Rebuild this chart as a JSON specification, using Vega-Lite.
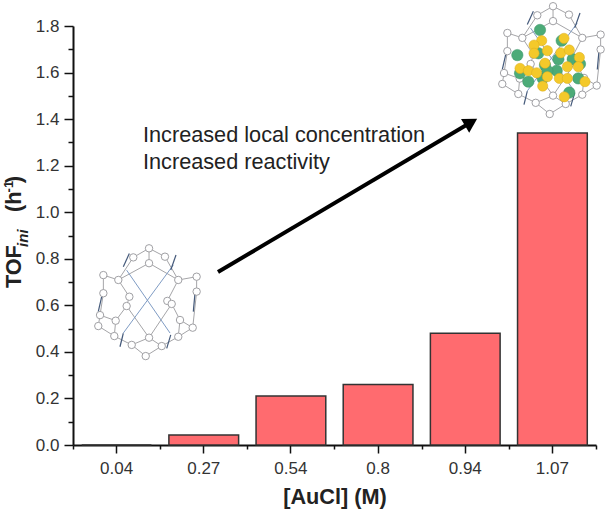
{"$schema":"https://vega.github.io/schema/vega-lite/v6.json","width":523,"height":419,"autosize":{"type":"none"},"padding":{"left":73,"top":26,"right":13,"bottom":67},"background":"white","config":{"view":{"stroke":null},"font":"Liberation Sans"},
"datasets":{
"bars":[{"c":"0.04","tof":0},{"c":"0.27","tof":0.043},{"c":"0.54","tof":0.21},{"c":"0.8","tof":0.26},{"c":"0.94","tof":0.48},{"c":"1.07","tof":1.34}],
"rings":[{"id":"lA","x":0.869,"y":0.845},{"id":"lB","x":1.051,"y":0.809},{"id":"lC","x":0.689,"y":0.806},{"id":"lD","x":0.869,"y":0.781},{"id":"lE","x":0.347,"y":0.73},{"id":"lF","x":1.413,"y":0.723},{"id":"lG","x":0.518,"y":0.709},{"id":"lH","x":1.203,"y":0.709},{"id":"lI","x":0.309,"y":0.558},{"id":"lJ","x":0.289,"y":0.511},{"id":"lK","x":1.368,"y":0.504},{"id":"lL","x":1.413,"y":0.659},{"id":"lM","x":0.472,"y":0.468},{"id":"lN","x":1.203,"y":0.465},{"id":"lO","x":0.869,"y":0.461},{"id":"lP","x":0.671,"y":0.43},{"id":"lQ","x":1.014,"y":0.425},{"id":"lR","x":0.831,"y":0.382},{"id":"lS","x":0.347,"y":0.652},{"id":"lT","x":0.644,"y":0.637},{"id":"lU","x":1.078,"y":0.619},{"id":"lV","x":0.613,"y":0.597},{"id":"lW","x":1.128,"y":0.606},{"id":"lX","x":0.488,"y":0.534},{"id":"lY","x":1.223,"y":0.537},
{"id":"rA","x":5.486,"y":1.885},{"id":"rB","x":5.668,"y":1.849},{"id":"rC","x":5.306,"y":1.846},{"id":"rD","x":5.486,"y":1.821},{"id":"rE","x":4.964,"y":1.77},{"id":"rF","x":6.03,"y":1.763},{"id":"rG","x":5.135,"y":1.749},{"id":"rH","x":5.82,"y":1.749},{"id":"rI","x":4.926,"y":1.598},{"id":"rJ","x":4.906,"y":1.551},{"id":"rK","x":5.985,"y":1.544},{"id":"rL","x":6.03,"y":1.699},{"id":"rM","x":5.089,"y":1.508},{"id":"rN","x":5.82,"y":1.505},{"id":"rO","x":5.486,"y":1.501},{"id":"rP","x":5.288,"y":1.47},{"id":"rQ","x":5.631,"y":1.465},{"id":"rR","x":5.448,"y":1.422},{"id":"rS","x":4.964,"y":1.692},{"id":"rT","x":5.261,"y":1.677},{"id":"rU","x":5.695,"y":1.659},{"id":"rV","x":5.23,"y":1.637},{"id":"rW","x":5.745,"y":1.646},{"id":"rX","x":5.105,"y":1.574},{"id":"rY","x":5.84,"y":1.577}],
"edges":[{"a":"lA","b":"lB"},{"a":"lA","b":"lC"},{"a":"lA","b":"lD"},{"a":"lB","b":"lH"},{"a":"lC","b":"lG"},{"a":"lG","b":"lE"},{"a":"lH","b":"lF"},{"a":"lD","b":"lG"},{"a":"lD","b":"lH"},{"a":"lE","b":"lS"},{"a":"lS","b":"lI"},{"a":"lI","b":"lJ"},{"a":"lJ","b":"lM"},{"a":"lM","b":"lP"},{"a":"lP","b":"lR"},{"a":"lR","b":"lQ"},{"a":"lQ","b":"lN"},{"a":"lN","b":"lK"},{"a":"lK","b":"lY"},{"a":"lF","b":"lL"},{"a":"lL","b":"lK"},{"a":"lO","b":"lP"},{"a":"lO","b":"lQ"},{"a":"lX","b":"lM"},{"a":"lX","b":"lI"},{"a":"lY","b":"lN"},{"a":"lT","b":"lV"},{"a":"lU","b":"lW"},{"a":"lT","b":"lG"},{"a":"lU","b":"lH"},{"a":"lV","b":"lX"},{"a":"lW","b":"lY"},{"a":"lV","b":"lO"},{"a":"lW","b":"lO"},
{"a":"rA","b":"rB"},{"a":"rA","b":"rC"},{"a":"rA","b":"rD"},{"a":"rB","b":"rH"},{"a":"rC","b":"rG"},{"a":"rG","b":"rE"},{"a":"rH","b":"rF"},{"a":"rD","b":"rG"},{"a":"rD","b":"rH"},{"a":"rE","b":"rS"},{"a":"rS","b":"rI"},{"a":"rI","b":"rJ"},{"a":"rJ","b":"rM"},{"a":"rM","b":"rP"},{"a":"rP","b":"rR"},{"a":"rR","b":"rQ"},{"a":"rQ","b":"rN"},{"a":"rN","b":"rK"},{"a":"rK","b":"rY"},{"a":"rF","b":"rL"},{"a":"rL","b":"rK"},{"a":"rO","b":"rP"},{"a":"rO","b":"rQ"},{"a":"rX","b":"rM"},{"a":"rX","b":"rI"},{"a":"rY","b":"rN"},{"a":"rT","b":"rV"},{"a":"rU","b":"rW"},{"a":"rT","b":"rG"},{"a":"rU","b":"rH"},{"a":"rV","b":"rX"},{"a":"rW","b":"rY"},{"a":"rV","b":"rO"},{"a":"rW","b":"rO"}],
"links":[{"x":0.613,"y":0.751,"x2":1.109,"y2":0.481},{"x":1.146,"y":0.773,"x2":0.575,"y2":0.481},{"x":5.23,"y":1.791,"x2":5.726,"y2":1.521},{"x":5.763,"y":1.813,"x2":5.192,"y2":1.521}],
"bars2":[{"x":0.644,"y":0.823,"x2":0.575,"y2":0.766},{"x":1.177,"y":0.816,"x2":1.117,"y2":0.752},{"x":0.328,"y":0.637,"x2":0.289,"y2":0.573},{"x":0.575,"y":0.48,"x2":0.537,"y2":0.422},{"x":1.117,"y":0.473,"x2":1.071,"y2":0.415},{"x":1.394,"y":0.652,"x2":1.375,"y2":0.573},{"x":5.261,"y":1.863,"x2":5.192,"y2":1.806},{"x":5.794,"y":1.856,"x2":5.734,"y2":1.792},{"x":4.945,"y":1.677,"x2":4.906,"y2":1.613},{"x":5.192,"y":1.52,"x2":5.154,"y2":1.462},{"x":5.734,"y":1.513,"x2":5.688,"y2":1.455},{"x":6.011,"y":1.692,"x2":5.992,"y2":1.613}],
"spheres":[{"kind":"green","x":5.337,"y":1.783},{"kind":"green","x":5.585,"y":1.737},{"kind":"green","x":5.078,"y":1.675},{"kind":"green","x":5.318,"y":1.683},{"kind":"green","x":5.547,"y":1.657},{"kind":"green","x":5.711,"y":1.657},{"kind":"green","x":5.794,"y":1.637},{"kind":"green","x":5.109,"y":1.597},{"kind":"green","x":5.204,"y":1.561},{"kind":"green","x":5.368,"y":1.575},{"kind":"green","x":5.528,"y":1.608},{"kind":"green","x":5.775,"y":1.575},{"kind":"green","x":5.672,"y":1.514},{"kind":"green","x":5.394,"y":1.632},{"kind":"green","x":5.421,"y":1.608},
{"kind":"yellow","x":5.356,"y":1.737},{"kind":"yellow","x":5.611,"y":1.747},{"kind":"yellow","x":5.269,"y":1.718},{"kind":"yellow","x":5.269,"y":1.683},{"kind":"yellow","x":5.421,"y":1.694},{"kind":"yellow","x":5.574,"y":1.685},{"kind":"yellow","x":5.672,"y":1.697},{"kind":"yellow","x":5.787,"y":1.665},{"kind":"yellow","x":5.109,"y":1.618},{"kind":"yellow","x":5.204,"y":1.608},{"kind":"yellow","x":5.299,"y":1.599},{"kind":"yellow","x":5.394,"y":1.64},{"kind":"yellow","x":5.65,"y":1.625},{"kind":"yellow","x":5.775,"y":1.625},{"kind":"yellow","x":5.421,"y":1.582},{"kind":"yellow","x":5.558,"y":1.575},{"kind":"yellow","x":5.65,"y":1.575},{"kind":"yellow","x":5.368,"y":1.542},{"kind":"yellow","x":5.851,"y":1.561},{"kind":"yellow","x":5.615,"y":1.496}]
},
"resolve":{"scale":{"x":"independent","y":"independent"},"axis":{"x":"independent","y":"independent"}},
"layer":[
{"data":{"name":"bars"},"mark":{"type":"bar","fill":"#ff6b6f","stroke":"#333333","strokeWidth":1.5},
"encoding":{"x":{"field":"c","type":"ordinal","sort":null,"scale":{"paddingInner":0.2,"paddingOuter":0.1},"axis":{"title":"[AuCl] (M)","titleFont":"Liberation Sans","titleFontSize":21.7,"titleFontWeight":"bold","titleColor":"#222222","titlePadding":10,"labelAngle":0,"labelFontSize":17,"labelColor":"#333333","labelPadding":7,"domainColor":"#111111","domainWidth":2,"tickColor":"#111111","tickWidth":1.5,"tickSize":8}},
"y":{"field":"tof","type":"quantitative","scale":{"domain":[0,1.8],"nice":false},"axis":{"title":null,"values":[0,0.2,0.4,0.6,0.8,1.0,1.2,1.4,1.6,1.8],"format":".1f","labelFontSize":17,"labelColor":"#333333","labelPadding":5,"domainColor":"#111111","domainWidth":2,"tickColor":"#111111","tickWidth":1.5,"tickSize":9,"grid":false}}}},
{"encoding":{"x":{"type":"quantitative","scale":{"domain":[0,5.977],"nice":false,"zero":false}},"y":{"type":"quantitative","scale":{"domain":[0,1.8],"nice":false,"zero":false}}},
"layer":[
{"data":{"name":"edges"},"transform":[{"lookup":"a","from":{"data":{"name":"rings"},"key":"id","fields":["x","y"]},"as":["xa","ya"]},{"lookup":"b","from":{"data":{"name":"rings"},"key":"id","fields":["x","y"]},"as":["xb","yb"]}],
"mark":{"type":"rule","stroke":"#a5a5a8","strokeWidth":1,"clip":false},
"encoding":{"x":{"field":"xa","axis":{"orient":"bottom","values":[0,0.996,1.992,2.988,3.984,4.98,5.977],"labels":false,"title":null,"domain":false,"tickColor":"#111111","tickWidth":1.5,"tickSize":4,"grid":false}},"y":{"field":"ya","axis":{"orient":"left","values":[0.1,0.3,0.5,0.7,0.9,1.1,1.3,1.5,1.7],"labels":false,"title":null,"domain":false,"tickColor":"#111111","tickWidth":1.5,"tickSize":5,"grid":false}},"x2":{"field":"xb"},"y2":{"field":"yb"}}},
{"data":{"name":"links"},"mark":{"type":"rule","stroke":"#7f9cc4","strokeWidth":1,"clip":false},"encoding":{"x":{"field":"x"},"y":{"field":"y"},"x2":{"field":"x2"},"y2":{"field":"y2"}}},
{"data":{"name":"bars2"},"mark":{"type":"rule","stroke":"#44597a","strokeWidth":1.2,"clip":false},"encoding":{"x":{"field":"x"},"y":{"field":"y"},"x2":{"field":"x2"},"y2":{"field":"y2"}}},
{"data":{"name":"rings"},"mark":{"type":"point","shape":"circle","filled":true,"fill":"white","stroke":"#a0a0a4","strokeWidth":1,"size":55,"opacity":1,"clip":false},"encoding":{"x":{"field":"x"},"y":{"field":"y"}}},
{"data":{"name":"spheres"},"transform":[{"filter":"datum.kind==='green'"}],"mark":{"type":"point","shape":"circle","filled":true,"fill":"#4cab78","stroke":"#3d9468","strokeWidth":0.5,"size":130,"opacity":1,"clip":false},"encoding":{"x":{"field":"x"},"y":{"field":"y"}}},
{"data":{"name":"spheres"},"transform":[{"filter":"datum.kind==='yellow'"}],"mark":{"type":"point","shape":"circle","filled":true,"fill":"#f4c92a","stroke":"#d8ab1c","strokeWidth":0.5,"size":105,"opacity":1,"clip":false},"encoding":{"x":{"field":"x"},"y":{"field":"y"}}},
{"data":{"values":[{"x":1.657,"y":0.743,"x2":4.53,"y2":1.382}]},"mark":{"type":"rule","stroke":"#000000","strokeWidth":4},"encoding":{"x":{"field":"x"},"y":{"field":"y"},"x2":{"field":"x2"},"y2":{"field":"y2"}}},
{"data":{"values":[{"x":4.55,"y":1.386}]},"mark":{"type":"point","shape":"triangle-up","filled":true,"fill":"#000000","stroke":null,"size":260,"angle":59.5,"opacity":1},"encoding":{"x":{"field":"x"},"y":{"field":"y"}}},
{"data":{"values":[{"t":"Increased local concentration","x":0.8,"y":1.332},{"t":"Increased reactivity","x":0.8,"y":1.216}]},"mark":{"type":"text","align":"left","baseline":"middle","fontSize":21.7,"font":"Liberation Sans","fill":"#222222"},"encoding":{"x":{"field":"x"},"y":{"field":"y"},"text":{"field":"t"}}},
{"data":{"values":[{"t":"TOF","x":-0.67,"y":0.674},{"t":"(h","x":-0.67,"y":1.001},{"t":")","x":-0.67,"y":1.125}]},"mark":{"type":"text","align":"left","baseline":"middle","angle":270,"fontSize":21.7,"fontWeight":"bold","font":"Liberation Sans","fill":"#222222","clip":false},"encoding":{"x":{"field":"x"},"y":{"field":"y"},"text":{"field":"t"}}},
{"data":{"values":[{"t":"ini","x":-0.575,"y":0.851}]},"mark":{"type":"text","align":"left","baseline":"middle","angle":270,"fontSize":15,"fontWeight":"bold","fontStyle":"italic","font":"Liberation Sans","fill":"#222222","clip":false},"encoding":{"x":{"field":"x"},"y":{"field":"y"},"text":{"field":"t"}}},
{"data":{"values":[{"t":"-1","x":-0.73,"y":1.085}]},"mark":{"type":"text","align":"left","baseline":"middle","angle":270,"fontSize":13,"fontWeight":"bold","font":"Liberation Sans","fill":"#222222","clip":false},"encoding":{"x":{"field":"x"},"y":{"field":"y"},"text":{"field":"t"}}}
]}
]}
